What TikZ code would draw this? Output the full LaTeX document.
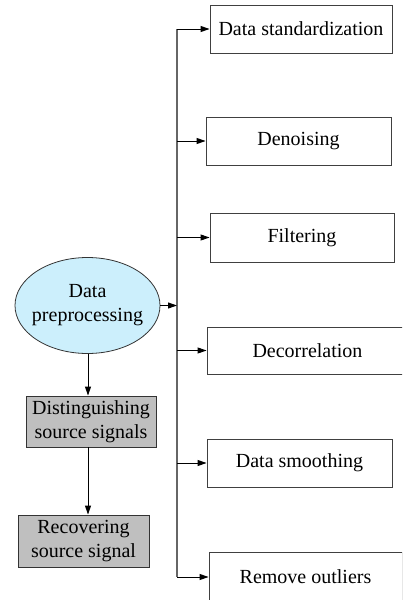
\documentclass[tikz,border=0pt]{standalone}
\usepackage{fontspec}
\setmainfont{Liberation Serif}
\usetikzlibrary{shapes.geometric,arrows.meta}
\begin{document}
\begin{tikzpicture}[x=1pt,y=-1pt,
  every node/.style={font=\fontsize{20}{24}\selectfont, align=center, inner sep=0pt},
  stepbox/.style={draw=black!75, line width=0.9pt, fill=white},
  graybox/.style={draw=black!80, line width=0.9pt, fill=black!25},
  oval/.style={ellipse, draw=black!80, line width=0.8pt, fill=cyan!20, inner xsep=-5pt},
  arr/.style={draw=black, line width=0.9pt, -{Triangle[length=9pt,width=6pt]}},
  trunkline/.style={draw=black!60, line width=1.2pt}]
\useasboundingbox (0,0) rectangle (402,600);
\clip (0,0) rectangle (402,600);

% processing steps on the right
\node[stepbox, minimum width=182pt, minimum height=48pt] (std) at (301,29) {Data standardization};
\node[stepbox, minimum width=185pt, minimum height=48pt] (den) at (298.5,141) {Denoising};
\node[stepbox, minimum width=184pt, minimum height=49pt] (fil) at (302,237.5) {Filtering};
\node[stepbox, minimum width=201pt, minimum height=47pt] (dec) at (307.5,350.5) {Decorrelation};
\node[stepbox, minimum width=185pt, minimum height=48pt] (smo) at (299.5,463) {Data smoothing};
\node[stepbox, minimum width=193pt, minimum height=50pt] (rem) at (305.5,577) {Remove outliers};

% main flow on the left
\node[oval, minimum width=145pt, minimum height=96pt] (pre) at (87.5,305.5) {Data\\preprocessing};
\node[graybox, minimum width=130pt, minimum height=51pt] (dis) at (91,421.5) {Distinguishing\\source signals};
\node[graybox, minimum width=131pt, minimum height=52pt] (rec) at (83.5,541) {Recovering\\source signal};

% vertical distribution line
\coordinate (trunk) at (177,0);
\draw[trunkline] (trunk |- std.west) -- (trunk |- rem.west);
\foreach \n in {std,den,fil,dec,smo,rem}
  \draw[arr] (trunk |- \n.west) -- (\n.west);

\coordinate (hit) at (trunk |- pre.east);
\draw[arr] (pre.east) -- (hit);

\draw[arr] (pre.south -| 88,0) -- (dis.north -| 88,0);
\draw[arr] (dis.south -| 88,0) -- (rec.north -| 88,0);
\end{tikzpicture}
\end{document}
